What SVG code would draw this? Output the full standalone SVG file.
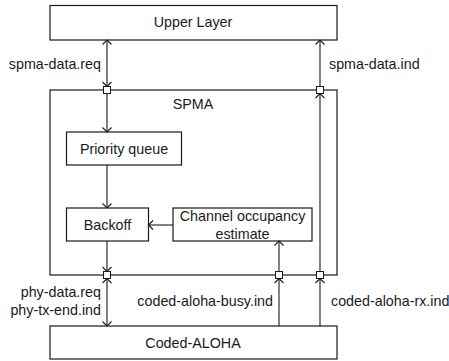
<svg xmlns="http://www.w3.org/2000/svg" width="449" height="361" viewBox="0 0 449 361">
  <style>
    .box { fill: #fff; stroke: #1a1a1a; stroke-width: 1.2; }
    .port { fill: #fff; stroke: #1a1a1a; stroke-width: 1; }
    .wire { fill: none; stroke: #1a1a1a; stroke-width: 1.1; }
    text { font-family: "Liberation Sans", Arial, sans-serif; font-size: 14.3px; fill: #1a1a1a; }
    .c { text-anchor: middle; }
    .r { text-anchor: end; }
  </style>
  <defs>
    <marker id="head" viewBox="-6 -6 8 12" markerWidth="8" markerHeight="12" refX="0" refY="0" orient="auto-start-reverse" markerUnits="userSpaceOnUse">
      <path d="M -4.5 -4.5 L 0 0 L -4.5 4.5" fill="none" stroke="#1a1a1a" stroke-width="1.1"/>
    </marker>
  </defs>

  <rect width="449" height="361" fill="#fff"/>

  <!-- layers -->
  <g id="upper-layer">
    <rect class="box" x="50" y="5.5" width="287" height="34.5"/>
    <text class="c" x="193" y="27">Upper Layer</text>
  </g>
  <g id="spma">
    <rect class="box" x="50" y="90" width="287" height="185"/>
    <text class="c" x="193" y="109">SPMA</text>
  </g>
  <g id="coded-aloha">
    <rect class="box" x="50" y="326" width="287" height="33"/>
    <text class="c" x="193" y="348">Coded-ALOHA</text>
  </g>

  <!-- blocks inside SPMA -->
  <g id="priority-queue">
    <rect class="box" x="66.5" y="132" width="115" height="33"/>
    <text class="c" x="124" y="154">Priority queue</text>
  </g>
  <g id="backoff">
    <rect class="box" x="66.5" y="208" width="82" height="33"/>
    <text class="c" x="107.5" y="230">Backoff</text>
  </g>
  <g id="channel-occupancy">
    <rect class="box" x="173" y="208" width="139" height="33"/>
    <text class="c" x="242.5" y="221">Channel occupancy</text>
    <text class="c" x="242.5" y="239">estimate</text>
  </g>

  <!-- connectors -->
  <g id="connectors">
    <!-- spma-data.req: both directions between upper layer and port -->
    <line class="wire" x1="107" y1="40" x2="107" y2="86.5" marker-start="url(#head)" marker-end="url(#head)"/>
    <line class="wire" x1="107" y1="93.5" x2="107" y2="132" marker-end="url(#head)"/>
    <line class="wire" x1="107" y1="165" x2="107" y2="208" marker-end="url(#head)"/>
    <line class="wire" x1="107" y1="241" x2="107" y2="271.5" marker-end="url(#head)"/>
    <line class="wire" x1="107" y1="278.5" x2="107" y2="326" marker-start="url(#head)" marker-end="url(#head)"/>
    <!-- channel estimate feeds backoff -->
    <line class="wire" x1="173" y1="225" x2="148.5" y2="225" marker-end="url(#head)"/>
    <!-- busy indication -->
    <line class="wire" x1="279" y1="326" x2="279" y2="278.5" marker-end="url(#head)"/>
    <line class="wire" x1="279" y1="271.5" x2="279" y2="241" marker-end="url(#head)"/>
    <!-- rx indication up to upper layer -->
    <line class="wire" x1="320" y1="326" x2="320" y2="278.5" marker-end="url(#head)"/>
    <line class="wire" x1="320" y1="271.5" x2="320" y2="93.5" marker-end="url(#head)"/>
    <line class="wire" x1="320" y1="86.5" x2="320" y2="40" marker-end="url(#head)"/>

    <!-- ports -->
    <rect class="port" x="103.5" y="86.5" width="7" height="7"/>
    <rect class="port" x="316.5" y="86.5" width="7" height="7"/>
    <rect class="port" x="103.5" y="271.5" width="7" height="7"/>
    <rect class="port" x="275.5" y="271.5" width="7" height="7"/>
    <rect class="port" x="316.5" y="271.5" width="7" height="7"/>

    <!-- primitive labels -->
    <text class="r" x="101" y="69">spma-data.req</text>
    <text x="329" y="69">spma-data.ind</text>
    <text class="r" x="101" y="297">phy-data.req</text>
    <text class="r" x="101" y="315">phy-tx-end.ind</text>
    <text class="r" x="273" y="306">coded-aloha-busy.ind</text>
    <text x="331" y="306">coded-aloha-rx.ind</text>
  </g>
</svg>
